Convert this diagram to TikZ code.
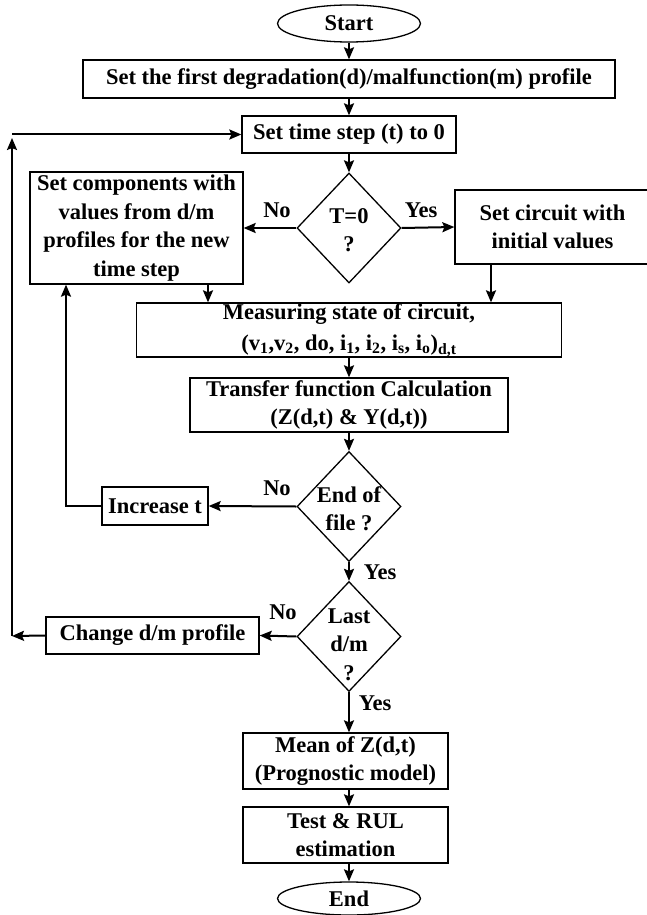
\documentclass[tikz,border=0pt]{standalone}
\usepackage{fontspec}
\setmainfont{Liberation Serif}
\usetikzlibrary{shapes.geometric,arrows.meta}
\begin{document}
\begin{tikzpicture}[x=1pt,y=-1pt,
  txt/.style={font=\fontsize{22.5}{28.5}\selectfont\bfseries},
  box/.style={txt,draw,line width=1.3pt,inner sep=0pt,align=center},
  term/.style={txt,draw,ellipse,line width=1.3pt,inner sep=0pt},
  dec/.style={txt,draw,diamond,line width=1.3pt,inner sep=0pt,minimum width=104pt,minimum height=110pt},
  arr/.style={line width=2pt,-{Stealth[length=12pt,width=10pt,inset=2pt]}},
  lbl/.style={txt,inner sep=0pt}]
\useasboundingbox (0,0) rectangle (647,915);

\node[term,minimum width=143pt,minimum height=37pt] (start) at (349,23.5) {Start};
\node[box,minimum width=532pt,minimum height=38pt] (b1) at (349,79) {Set the first degradation(d)/malfunction(m) profile};
\node[box,minimum width=214pt,minimum height=37pt] (tstep) at (349,134.5) {Set time step (t) to 0};
\node[dec] (d1) at (349,228) {\makebox[0pt]{\smash{\raisebox{-9pt}{\begin{tabular}{@{}c@{}}T=0\\?\end{tabular}}}}};
\node[box,minimum width=213pt,minimum height=112pt] (left) at (136.5,228) {Set components with\\values from d/m\\profiles for the new\\time step};
\node[box,minimum width=195pt,minimum height=74pt] (right) at (552.5,227) {Set circuit with\\initial values};
\node[box,minimum width=425pt,minimum height=54pt] (meas) at (349,330) {Measuring state of circuit,\\[3pt](v\textsubscript{1},v\textsubscript{2}, do, i\textsubscript{1}, i\textsubscript{2}, i\textsubscript{s}, i\textsubscript{o})\textsubscript{d,t}};
\node[box,minimum width=318pt,minimum height=54pt] (trans) at (349,405) {Transfer function Calculation\\(Z(d,t) \& Y(d,t))};
\node[dec] (d2) at (349,506.5) {\makebox[0pt]{\smash{\raisebox{-9.5pt}{\begin{tabular}{@{}c@{}}End of\\file ?\end{tabular}}}}};
\node[box,minimum width=106pt,minimum height=38pt] (inc) at (155,506) {Increase t};
\node[dec] (d3) at (349,636.5) {\makebox[0pt]{\smash{\raisebox{-14.5pt}{\begin{tabular}{@{}c@{}}Last\\d/m\\?\end{tabular}}}}};
\node[box,minimum width=213pt,minimum height=37pt] (chg) at (152.5,635.5) {Change d/m profile};
\node[box,minimum width=205pt,minimum height=56pt] (mean) at (345.5,761) {Mean of Z(d,t)\\(Prognostic model)};
\node[box,minimum width=205pt,minimum height=56pt] (test) at (345.5,835) {Test \& RUL\\estimation};
\node[term,minimum width=143pt,minimum height=33pt] (end) at (349,898.5) {End};

\coordinate (xA) at (208,0);
\coordinate (xB) at (491,0);
\coordinate (xL) at (66,0);
\coordinate (cB) at (12,636);
\coordinate (cT) at (12,134.5);
\coordinate (cU) at (12,138);

\draw[arr] (start) -- (b1);
\draw[arr] (b1) -- (tstep);
\draw[arr] (tstep) -- (d1);
\draw[arr] (d1.west) -- (left.east);
\draw[arr] (d1.east) -- (right.west);
\draw[arr] (left.south -| xA) -- (meas.north -| xA);
\draw[arr] (right.south -| xB) -- (meas.north -| xB);
\draw[arr] (meas) -- (trans);
\draw[arr] (trans) -- (d2);
\draw[arr] (d2.west) -- (inc.east);
\draw[arr] (inc.west) -| (left.south -| xL);
\draw[arr] (d2) -- (d3);
\draw[arr] (d3.west) -- (chg.east);
\draw[arr] (chg.west) -- (cB);
\draw[arr] (cB) -- (cU);
\draw[arr] (cT) -- (tstep.west);
\draw[arr] (d3.south) -- (mean.north -| d3.south);
\draw[arr] (mean.south -| d3.south) -- (test.north -| d3.south);
\draw[arr] (test.south -| d3.south) -- (end);

\node[lbl] (n1) at (277,210) {No};
\node[lbl] (y1) at (421,210) {Yes};
\node[lbl] (n2) at (277,488) {No};
\node[lbl] (y2) at (380,572) {Yes};
\node[lbl] (n3) at (283,612) {No};
\node[lbl] (y3) at (375,703) {Yes};
\end{tikzpicture}
\end{document}
